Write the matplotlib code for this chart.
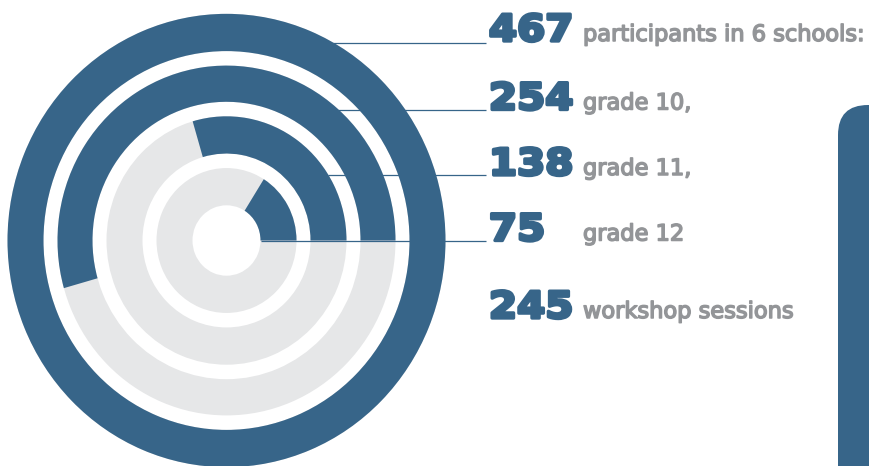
import matplotlib
matplotlib.use("Agg")
import matplotlib.pyplot as plt
from matplotlib.patches import Wedge, FancyBboxPatch
from matplotlib import patheffects
from matplotlib.transforms import Affine2D

# ---- data ----
counts = [467, 254, 138, 75]
count_labels = ["participants in 6 schools:", "grade 10,", "grade 11,", "grade 12"]
sessions = 245
session_label = "workshop sessions"

DARK = "#376589"
TRACK = "#e6e7e8"
GREY = "#939598"

W, H = 870, 466


class WideHeavy(patheffects.AbstractPathEffect):
    """Draw the text glyphs horizontally widened and with a thickening stroke."""

    def __init__(self, x0, sx, lw, color):
        super().__init__()
        self.x0, self.sx, self.lw, self.color = x0, sx, lw, color

    def draw_path(self, renderer, gc, tpath, affine, rgbFace=None):
        aff = affine + Affine2D().translate(-self.x0, 0).scale(self.sx, 1).translate(self.x0, 0)
        gc0 = renderer.new_gc()
        gc0.copy_properties(gc)
        gc0.set_linewidth(self.lw)
        gc0.set_foreground(self.color)
        renderer.draw_path(gc0, tpath, aff, rgbFace)
        gc0.restore()


fig = plt.figure(figsize=(W / 100, H / 100), dpi=100)

# ---- rings ----
cx, cy = 226.5, 240.5
sy = 1.035
axr = fig.add_axes([0, 0, 1, 1])
axr.set_xlim(-cx, W - cx)
axr.set_ylim(-(H - cy) / sy, cy / sy)
axr.axis("off")
ring_radii = [(183, 219), (134, 169), (84, 120), (34, 70)]
total = counts[0]
for v, (r0, r1) in zip(counts, ring_radii):
    axr.add_patch(Wedge((0, 0), r1, 0, 360, width=r1 - r0, facecolor=TRACK, lw=0))
    axr.add_patch(Wedge((0, 0), r1, 0, 360 * v / total, width=r1 - r0, facecolor=DARK, lw=0))

# ---- overlay in pixel coords ----
axp = fig.add_axes([0, 0, 1, 1])
axp.set_xlim(0, W)
axp.set_ylim(H, 0)
axp.axis("off")

lead_y = [43, 109.5, 175, 240.5]
lead_x0 = [333, 338, 328, 261]
for y, x0 in zip(lead_y, lead_x0):
    axp.plot([x0, 486], [y, y], color=DARK, lw=0.9, solid_capstyle="butt")

num_x = 489
lab_x = 583
baselines = [41, 109.5, 175, 240.5, 318]
numbers = counts + [sessions]
labels = count_labels + [session_label]
for v, lab, b in zip(numbers, labels, baselines):
    axp.text(num_x, b, str(v), fontsize=26.5, fontweight="bold", family="DejaVu Sans",
             color=DARK, va="baseline", ha="left",
             path_effects=[WideHeavy(num_x + 1, 1.1, 2.4, DARK)])
    axp.text(lab_x, b, lab, fontsize=16.2, family="DejaVu Sans", color=GREY,
             va="baseline", ha="left",
             path_effects=[patheffects.withStroke(linewidth=1.1, foreground=GREY)])

axp.add_patch(FancyBboxPatch((838, 105), 100, 395,
                             boxstyle="round,pad=0,rounding_size=30",
                             facecolor=DARK, lw=0))

fig.savefig("out.png", dpi=100)
